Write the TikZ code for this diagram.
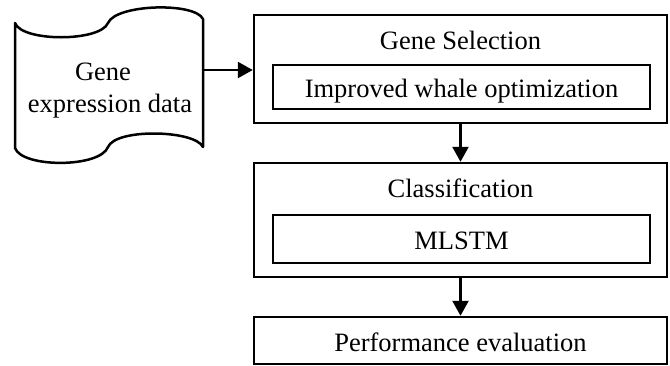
\documentclass[tikz,border=0pt]{standalone}
\usepackage{fontspec}
\setmainfont{Liberation Serif}
\usetikzlibrary{arrows.meta}
\begin{document}
\begin{tikzpicture}[x=1pt,y=-1pt,
  every node/.style={font=\fontsize{26.5}{32}\selectfont},
  line/.style={line width=2.5pt},
  box/.style={line, draw, rectangle, inner sep=0pt, text height=21pt, text depth=0pt},
  lbl/.style={inner sep=0pt, anchor=base},
  arr/.style={line, -{Triangle[length=15pt,width=16pt]}}]
\useasboundingbox (0,0) rectangle (670,365);
% data tape
\draw[line, line join=round]
  (15,23) .. controls (22,42) and (100,42) .. (108,23)
  .. controls (116,4) and (195,2) .. (203,19)
  -- (203,147)
  .. controls (195,130) and (116,128) .. (108,147)
  .. controls (100,168) and (22,168) .. (15,148) -- cycle;
\node[lbl] (gene) at (103,80) {Gene};
\node[lbl] (expr) at (110,112) {expression data};
\coordinate (tapeR) at (203,70);
% gene selection
\node[box, minimum width=413pt, minimum height=108pt] (gs) at (460.5,69) {};
\node[lbl] (gstitle) at (460.5,49) {Gene Selection};
\node[box, minimum width=377pt, minimum height=44pt] (iwo) at (461.5,87) {Improved whale optimization};
% classification
\node[box, minimum width=413pt, minimum height=114pt] (cls) at (460.5,220) {};
\node[lbl] (clstitle) at (460.5,197) {Classification};
\node[box, minimum width=377pt, minimum height=48pt] (mlstm) at (461.5,239) {MLSTM};
% performance
\node[box, minimum width=413pt, minimum height=47pt] (perf) at (460.5,340.5) {Performance evaluation};
% connectors
\draw[arr] (tapeR) -- (tapeR -| gs.west);
\draw[arr] (gs.south) -- (cls.north);
\draw[arr] (cls.south) -- (perf.north);
\end{tikzpicture}
\end{document}
